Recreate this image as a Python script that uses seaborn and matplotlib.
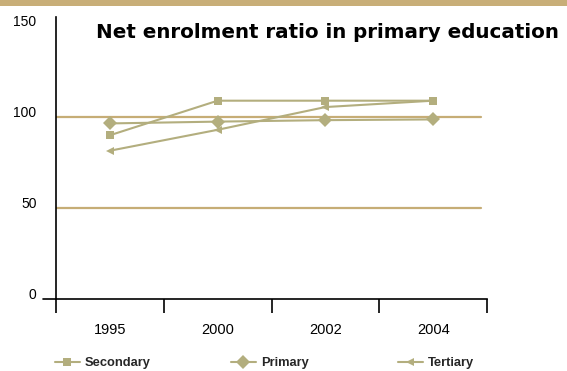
import matplotlib
matplotlib.use("Agg")
import matplotlib.pyplot as plt
import matplotlib.transforms as mtransforms
from matplotlib.patches import Rectangle
import seaborn as sns
import pandas as pd

# Enrolment ratios by year
years = ["1995", "2000", "2002", "2004"]
secondary = [90, 109, 109, 109]
primary = [96.5, 97.5, 98.3, 98.7]
tertiary = [81.5, 93, 105.5, 109]
series_names = ["Secondary", "Primary", "Tertiary"]
y_ticks = [0, 50, 100, 150]

df = pd.DataFrame({
    "Year": years * 3,
    "Ratio": secondary + primary + tertiary,
    "Level": [n for n in series_names for _ in years],
})

sns.set_theme(style="white")
plt.rcParams["font.family"] = ["Liberation Sans", "DejaVu Sans"]

line_color = "#b3ae7e"
grid_color = "#c6ad76"

fig = plt.figure(figsize=(5.67, 3.71), dpi=100)
ax = fig.add_axes([56 / 567, 1 - 299 / 371, (487 - 56) / 567, (299 - 17) / 371])

# decorative band along the top edge
fig.patches.append(Rectangle((0, 1 - 6 / 371), 1, 6 / 371, transform=fig.transFigure,
                             facecolor="#c8ae78", edgecolor="none", zorder=0))

# reference lines
for v in (50, 100):
    ax.axhline(v, xmin=0, xmax=0.986, color=grid_color, lw=1.6, zorder=1)

sns.lineplot(
    data=df, x="Year", y="Ratio", hue="Level", style="Level",
    palette={n: line_color for n in series_names},
    markers={"Secondary": "s", "Primary": "D", "Tertiary": "<"},
    dashes=False, markersize=6, linewidth=1.5, markeredgewidth=0,
    ax=ax, zorder=3,
)
# enlarge diamonds a bit
for ln in ax.lines:
    if ln.get_marker() == "D":
        ln.set_markersize(7.5)

ax.set_xlim(-0.5, 3.5)
ax.set_ylim(0, 155)
ax.set_xlabel("")
ax.set_ylabel("")

for s in ("top", "right"):
    ax.spines[s].set_visible(False)
for s in ("left", "bottom"):
    ax.spines[s].set_color("black")
    ax.spines[s].set_linewidth(1.2)

# x: boundary ticks, labels centred on categories
ax.set_xticks([-0.5, 0.5, 1.5, 2.5, 3.5])
ax.set_xticklabels([])
ax.set_xticks([0, 1, 2, 3], minor=True)
ax.set_xticklabels(years, minor=True)
ax.tick_params(axis="x", which="major", direction="out", length=10, width=1.2,
               color="black", bottom=True)
ax.tick_params(axis="x", which="minor", length=0, pad=17, labelsize=10.5,
               labelcolor="black")

# y: labels only, sitting just above their values
ax.set_yticks(y_ticks)
ax.set_yticklabels([str(v) for v in y_ticks])
ax.tick_params(axis="y", length=0, pad=14, labelsize=10, labelcolor="black")
lift = mtransforms.ScaledTranslation(0, 5.5 / 100, fig.dpi_scale_trans)
for lab in ax.get_yticklabels():
    lab.set_transform(lab.get_transform() + lift)

# short extension of the baseline to the left of the y axis
ax.plot([-0.03, 0], [0, 0], transform=ax.transAxes, color="black", lw=1.2,
        clip_on=False)

ax.grid(False)

# title
fig.text(96 / 567, 1 - 38 / 371, "Net enrolment ratio in primary education",
         fontsize=14.3, fontweight="bold", family="DejaVu Sans",
         ha="left", va="baseline", color="black")

# legend: one entry per slot along the bottom
handles, labels = ax.get_legend_handles_labels()
ax.get_legend().remove()
slots = {"Secondary": 55, "Primary": 231, "Tertiary": 398}
for h, l in zip(handles, labels):
    if l not in slots:
        continue
    fig.legend([h], [l], loc="center left",
               bbox_to_anchor=(slots[l] / 567, 1 - 363 / 371),
               frameon=False, handlelength=1.9, handletextpad=0.4,
               borderaxespad=0, borderpad=0,
               prop={"family": "Liberation Sans", "weight": "bold", "size": 9.3})

fig.savefig("out.png", dpi=100)
